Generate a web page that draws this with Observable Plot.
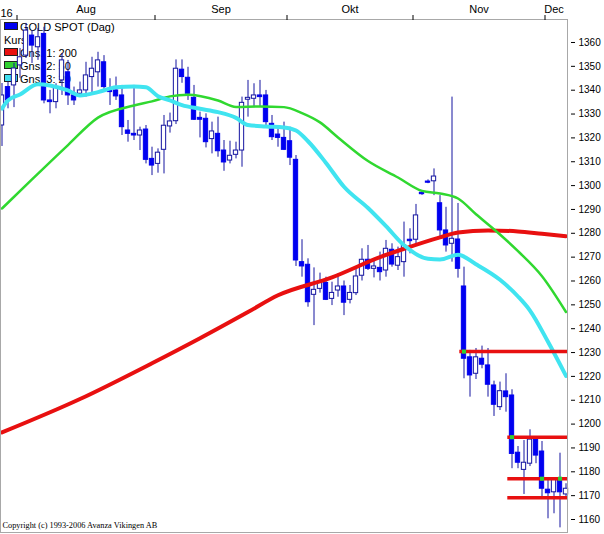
<!DOCTYPE html>
<html><head><meta charset="utf-8">
<script src="https://cdn.jsdelivr.net/npm/d3@7"></script>
<script src="https://cdn.jsdelivr.net/npm/@observablehq/plot@0.6"></script>
<style>body{margin:0;background:#fff} #chart svg{display:block}</style>
</head><body><div id="chart"></div>
<script>
// Daily candles, trading-day index 0 = 27 Jul 2016 ... 94 = 6 Dec 2016
const openP = [1325.2,1341.3,1342.0,1350.4,1354.5,1362.9,1358.0,1363.6,1335.7,1335.0,
1344.1,1347.5,1337.8,1338.5,1339.9,1345.5,1347.5,1351.7,1339.9,1339.9,
1337.8,1323.1,1321.7,1321.0,1323.5,1311.2,1309.1,1315.0,1324.8,1327.0,
1348.6,1345.2,1336.8,1328.4,1328.0,1319.5,1321.7,1314.7,1310.5,1312.9,
1314.7,1336.0,1336.4,1337.8,1337.8,1325.9,1321.4,1320.0,1318.6,1310.8,
1267.9,1266.8,1254.2,1256.7,1259.2,1252.5,1256.0,1257.7,1252.1,1254.9,
1262.2,1268.9,1265.1,1265.5,1264.4,1273.1,1266.4,1267.9,1277.3,1277.3,
1297.0,1301.7,1301.8,1292.6,1281.2,1275.6,1277.4,1257.7,1228.0,1221.1,
1227.4,1224.6,1216.2,1207.1,1213.7,1212.0,1188.0,1180.8,1183.4,1193.5,
1188.5,1172.5,1171.4,1177.1,1170.5];
const closeP = [1337.8,1335.7,1349.1,1353.8,1365.0,1358.7,1362.2,1335.7,1335.0,1341.3,
1352.5,1337.8,1335.7,1339.9,1346.2,1349.0,1352.5,1341.3,1339.2,1337.4,
1324.5,1321.7,1321.0,1323.1,1310.8,1308.4,1313.8,1325.1,1326.9,1349.0,
1345.5,1338.5,1327.6,1327.6,1318.2,1322.7,1314.4,1309.7,1312.5,1314.7,
1334.7,1336.8,1337.8,1337.1,1326.6,1320.3,1320.0,1315.0,1311.7,1268.6,
1266.1,1251.1,1256.3,1259.2,1252.1,1255.0,1257.7,1250.9,1255.0,1261.9,
1268.9,1265.1,1266.1,1263.7,1273.5,1266.9,1270.0,1274.9,1276.7,1287.5,
1296.4,1301.2,1303.8,1281.2,1274.9,1277.7,1265.1,1227.4,1220.4,1228.0,
1224.9,1216.5,1208.1,1213.8,1211.3,1187.5,1183.8,1183.8,1193.5,1186.8,
1172.9,1171.0,1177.1,1171.4,1172.9];
const highP = [1342.8,1343.4,1351.2,1357.5,1368.0,1365.0,1365.9,1366.4,1339.9,1342.7,
1355.4,1352.5,1341.3,1343.4,1351.7,1353.8,1355.9,1354.5,1344.8,1345.5,
1342.0,1327.3,1342.0,1324.5,1325.2,1316.1,1315.4,1329.4,1330.4,1352.7,
1352.7,1349.6,1342.0,1330.8,1330.1,1326.6,1328.7,1318.9,1318.6,1318.2,
1337.1,1344.1,1342.7,1344.1,1339.9,1329.4,1323.8,1326.6,1324.5,1312.6,
1277.3,1269.3,1265.5,1263.3,1261.6,1259.5,1263.0,1260.0,1258.1,1265.8,
1273.5,1274.9,1268.6,1272.1,1277.0,1275.6,1274.2,1284.7,1281.9,1292.1,
1297.5,1302.4,1307.0,1295.8,1290.9,1337.1,1292.5,1265.8,1230.9,1231.7,
1232.7,1231.7,1218.0,1217.6,1221.1,1214.4,1190.6,1193.1,1197.6,1194.5,
1192.7,1176.6,1177.5,1187.8,1175.0];
const lowP = [1316.4,1332.2,1332.7,1345.0,1353.3,1351.2,1352.5,1334.3,1330.1,1332.2,
1337.8,1333.6,1333.6,1337.8,1337.1,1337.8,1341.3,1339.9,1333.6,1335.7,
1321.0,1318.2,1318.9,1314.7,1309.1,1304.2,1305.2,1304.9,1322.0,1325.6,
1342.9,1335.7,1327.3,1320.0,1315.8,1313.3,1311.9,1306.0,1309.1,1311.2,
1307.7,1328.7,1332.9,1332.9,1325.2,1318.9,1316.1,1314.7,1308.4,1266.1,
1261.6,1249.0,1241.3,1254.9,1251.8,1249.7,1253.2,1245.5,1250.4,1253.9,
1260.0,1264.4,1261.3,1260.0,1261.6,1265.8,1264.4,1261.6,1271.4,1275.6,
1295.9,1300.8,1295.8,1278.4,1272.1,1267.9,1261.2,1219.0,1211.3,1218.7,
1223.2,1211.3,1203.2,1205.7,1205.0,1181.3,1181.3,1170.5,1182.2,1183.4,
1169.3,1160.3,1162.4,1156.5,1169.3];

// Moving averages: [day index, price]
const ma200 = [[0,1196.5],[13,1210.5],[25,1225.5],[33,1236],[41,1247],[46,1254],[55,1261.5],
[63,1270],[67,1273.5],[73,1278.3],[76,1280.3],[81,1281.2],[86,1280.8],[90,1279.8],[94,1278.8]];
const ma50 = [[0,1290.4],[5,1302.6],[11,1317],[16,1328.5],[22,1333.6],[25,1335.3],[28,1337.4],
[31,1338.1],[36,1335.7],[39,1333],[43,1333.2],[47,1332.9],[50,1330.4],[53,1326.5],[56,1320.2],
[61,1310.3],[66,1303.4],[70,1297.8],[73,1296.7],[76,1294.6],[79,1288],[83,1279.5],[86,1272.5],
[90,1262],[94,1247]];
const ma20 = [[0,1332.3],[1,1335.7],[3,1338.2],[6,1342.5],[8,1342],[11,1339.9],[13,1337.8],
[16,1339.2],[19,1341.2],[22,1341.6],[24,1341.2],[26,1337.5],[28,1335.7],[30,1333.7],[33,1332.2],
[36,1330.8],[39,1328.4],[41,1325.4],[44,1324.8],[47,1324.4],[49,1323.1],[51,1318.6],[54,1309.5],
[57,1299.5],[61,1290.6],[64,1283],[67,1275],[71,1269.3],[73,1269],[76,1271],[79,1267],
[83,1260.5],[86,1253.5],[88,1247.6],[91,1234.5],[94,1220.2]];

// Drawn horizontal levels: start day, price
const levelStart = [76.3, 84.3, 84.3, 84.3];
const levelPrice = [1230.4, 1194.5, 1177.1, 1169.1];
const levelMarks = [[77,1230.4],[85,1194.5],[90,1177.1],[93,1177.1]];

// Axis data
const monthBounds = [2.5, 25.5, 47.5, 68.5, 90.5];
const monthLabels = ["Aug", "Sep", "Okt", "Nov", "Dec"];
const monthLabelPos = [14, 36.5, 58, 79.5, 92];
const yearLabel = "16";
const yTicks = [1160,1170,1180,1190,1200,1210,1220,1230,1240,1250,1260,1270,1280,1290,1300,1310,1320,1330,1340,1350,1360];

const legendLabels = ["GOLD SPOT (Dag)", "Kurs", "Gns. 1: 200", "Gns. 2: 50", "Gns. 3: 20"];
const legendColors = ["#0000f0", null, "#e81010", "#30d030", "#40e0f0"];
const copyright = "Copyright (c) 1993-2006 Avanza Vikingen AB";

const xMin = -0.25, xMax = 94.25;
const candles = openP.map((o, i) => ({i, o, c: closeP[i], h: highP[i], l: lowP[i]}));
const levels = levelStart.map((s, k) => ({s, p: levelPrice[k]}));

function legend() {
  const g = d3.create("svg:g")
    .attr("font-family", "Liberation Sans, Arial, sans-serif")
    .attr("font-size", 11)
    .attr("text-anchor", "start")
    .attr("fill", "#000");
  legendLabels.forEach((t, k) => {
    const top = 19 + 3 + 13 * k;
    if (legendColors[k]) {
      g.append("rect").attr("x", 4.5).attr("y", top + 0.5).attr("width", 13).attr("height", 7)
        .attr("fill", legendColors[k]).attr("stroke", "#202020").attr("stroke-width", 1);
    }
    g.append("text").attr("x", legendColors[k] ? 20 : 4).attr("y", top + 8.5).text(t);
  });
  return g.node();
}

const wick = "#1414a0";
const chart = Plot.plot({
  width: 604, height: 534,
  marginTop: 19, marginBottom: 2, marginLeft: 0, marginRight: 37,
  style: {fontFamily: "Liberation Sans, Arial, sans-serif", fontSize: "11px", background: "white"},
  x: {type: "linear", domain: [xMin, xMax], axis: null},
  y: {domain: [1154.55, 1369.64], axis: null},
  marks: [
    legend,
    Plot.ruleX(candles, {x: "i", y1: "l", y2: "h", stroke: wick, strokeWidth: 1}),
    Plot.rect(candles.filter(d => d.c < d.o), {x1: d => d.i - 0.36, x2: d => d.i + 0.36, y1: "o", y2: "c", fill: "#0000f0", stroke: "#0000f0", strokeWidth: 1}),
    Plot.rect(candles.filter(d => d.c >= d.o), {x1: d => d.i - 0.36, x2: d => d.i + 0.36, y1: "o", y2: "c", fill: "white", stroke: wick, strokeWidth: 1}),
    Plot.line(ma200, {x: d => d[0], y: d => d[1], stroke: "#e81010", strokeWidth: 4, curve: "monotone-x"}),
    Plot.line(ma50, {x: d => d[0], y: d => d[1], stroke: "#30d830", strokeWidth: 2.5, curve: "monotone-x"}),
    Plot.line(ma20, {x: d => d[0], y: d => d[1], stroke: "#40e4f0", strokeWidth: 4, curve: "monotone-x"}),
    Plot.ruleY(levels, {y: "p", x1: "s", x2: () => xMax, stroke: "#e81010", strokeWidth: 3.5}),
    Plot.dot(levelMarks, {x: d => d[0], y: d => d[1], symbol: "square", fill: "#30d030", r: 2.3}),
    Plot.frame({stroke: "#a8a8a8"}),
    Plot.axisY(yTicks, {anchor: "right", tickSize: 4, dx: 3, tickPadding: 4, fontSize: 10, stroke: "#000", tickFormat: d => String(d)}),
    Plot.axisX(monthBounds, {anchor: "top", tickSize: 5, tickFormat: () => "", stroke: "#000"}),
    Plot.axisX(monthLabelPos, {anchor: "top", tickSize: 0, tickPadding: 7, tickFormat: (d, i) => monthLabels[i], fontSize: 11}),
    Plot.text([yearLabel], {x: xMin, frameAnchor: "top", dy: -10, textAnchor: "start", text: d => d, fontSize: 11}),
    Plot.text([copyright], {frameAnchor: "bottom-left", dx: 2, dy: -5, textAnchor: "start", text: d => d, fontSize: 8.3, fontFamily: "Liberation Serif, Times New Roman, serif"})
  ]
});
document.getElementById("chart").appendChild(chart);
</script></body></html>
